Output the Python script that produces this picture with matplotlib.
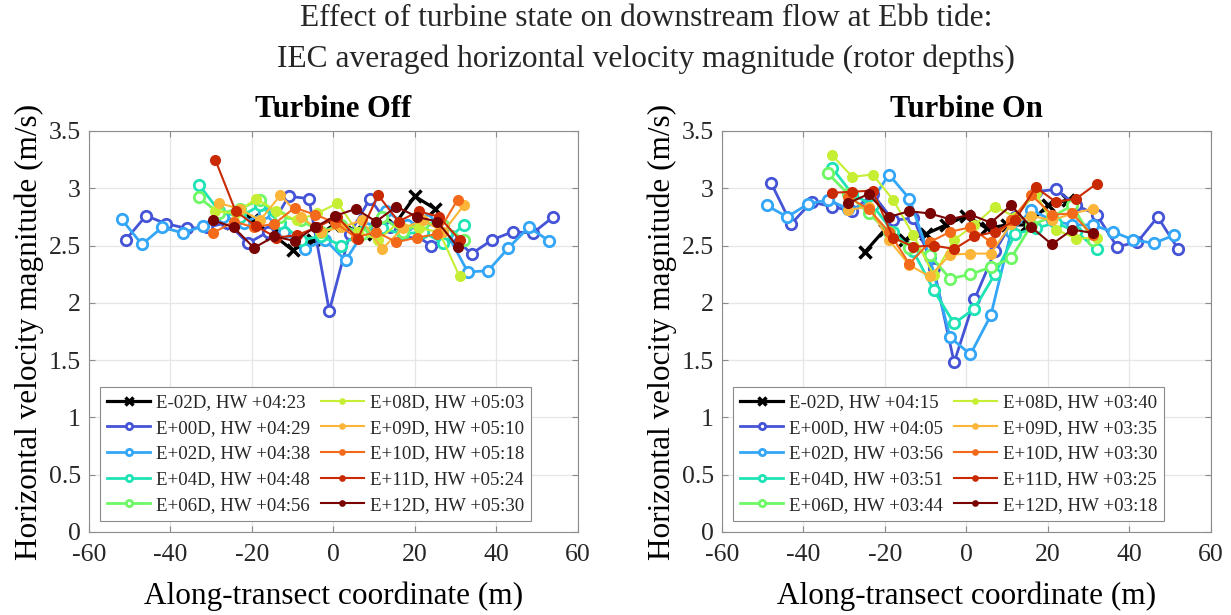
import matplotlib

matplotlib.use("Agg")
import matplotlib.pyplot as plt  # noqa: E402

# ---- Turbine Off -------------------------------------------------------
off_labels = ["E-02D, HW +04:23", "E+00D, HW +04:29", "E+02D, HW +04:38",
              "E+04D, HW +04:48", "E+06D, HW +04:56", "E+08D, HW +05:03",
              "E+09D, HW +05:10", "E+10D, HW +05:18", "E+11D, HW +05:24",
              "E+12D, HW +05:30"]
off_x = [
    [-25, -20, -15, -10, -5, 0, 5, 10, 15, 20, 25],
    [-51, -46, -41, -36, -31, -26, -21, -16, -11, -6, -1, 4, 9, 14, 19, 24, 29, 34, 39, 44, 49, 54],
    [-52, -47, -42, -37, -32, -27, -22, -17, -12, -7, -2, 3, 8, 13, 18, 23, 28, 33, 38, 43, 48, 53],
    [-33, -28, -23, -18, -13, -8, -3, 2, 7, 12, 17, 22, 27, 32],
    [-33, -28, -23, -18, -13, -8, -3, 2, 7, 12, 17, 22, 27, 32],
    [-29, -24, -19, -14, -9, -4, 1, 6, 11, 16, 21, 26, 31],
    [-28, -23, -18, -13, -8, -3, 2, 7, 12, 17, 22, 27, 32],
    [-29.5, -24.5, -19.5, -14.5, -9.5, -4.5, 0.5, 5.5, 10.5, 15.5, 20.5, 25.5, 30.5],
    [-29, -24, -19, -14, -9, -4, 1, 6, 11, 16, 21, 26, 31],
    [-29.5, -24.5, -19.5, -14.5, -9.5, -4.5, 0.5, 5.5, 10.5, 15.5, 20.5, 25.5, 30.5],
]
off_v = [
    [2.70, 2.72, 2.60, 2.46, 2.55, 2.68, 2.62, 2.60, 2.68, 2.93, 2.82],
    [2.55, 2.76, 2.69, 2.65, 2.66, 2.70, 2.52, 2.62, 2.93, 2.91, 1.93, 2.60, 2.91, 2.66, 2.62, 2.50, 2.58, 2.43, 2.55, 2.62, 2.61, 2.75],
    [2.73, 2.51, 2.66, 2.61, 2.67, 2.75, 2.70, 2.78, 2.62, 2.47, 2.55, 2.37, 2.65, 2.80, 2.68, 2.72, 2.60, 2.27, 2.28, 2.48, 2.66, 2.54],
    [3.03, 2.80, 2.75, 2.85, 2.70, 2.55, 2.58, 2.50, 2.62, 2.65, 2.60, 2.62, 2.52, 2.68],
    [2.92, 2.78, 2.82, 2.90, 2.75, 2.72, 2.62, 2.68, 2.60, 2.75, 2.62, 2.70, 2.68, 2.55],
    [2.80, 2.78, 2.91, 2.80, 2.72, 2.78, 2.87, 2.62, 2.55, 2.70, 2.65, 2.62, 2.23],
    [2.87, 2.82, 2.72, 2.94, 2.75, 2.62, 2.66, 2.72, 2.47, 2.65, 2.72, 2.62, 2.85],
    [2.61, 2.71, 2.66, 2.69, 2.83, 2.77, 2.70, 2.57, 2.62, 2.53, 2.57, 2.60, 2.90],
    [3.25, 2.80, 2.67, 2.57, 2.59, 2.66, 2.75, 2.56, 2.94, 2.71, 2.80, 2.75, 2.55],
    [2.72, 2.66, 2.48, 2.58, 2.54, 2.66, 2.76, 2.82, 2.71, 2.84, 2.75, 2.71, 2.49],
]

# ---- Turbine On --------------------------------------------------------
on_labels = ["E-02D, HW +04:15", "E+00D, HW +04:05", "E+02D, HW +03:56",
             "E+04D, HW +03:51", "E+06D, HW +03:44", "E+08D, HW +03:40",
             "E+09D, HW +03:35", "E+10D, HW +03:30", "E+11D, HW +03:25",
             "E+12D, HW +03:18"]
on_x = [
    [-25, -20, -15, -10, -5, 0, 5, 10, 15, 20, 25],
    [-48, -43, -38, -33, -28, -23, -18, -13, -8, -3, 2, 7, 12, 17, 22, 27, 32, 37, 42, 47, 52],
    [-49, -44, -39, -34, -29, -24, -19, -14, -9, -4, 1, 6, 11, 16, 21, 26, 31, 36, 41, 46, 51],
    [-33, -28, -23, -18, -13, -8, -3, 2, 7, 12, 17, 22, 27, 32],
    [-34, -29, -24, -19, -14, -9, -4, 1, 6, 11, 16, 21, 26, 31],
    [-33, -28, -23, -18, -13, -8, -3, 2, 7, 12, 17, 22, 27, 32],
    [-29, -24, -19, -14, -9, -4, 1, 6, 11, 16, 21, 26, 31],
    [-29, -24, -19, -14, -9, -4, 1, 6, 11, 16, 21, 26, 31],
    [-33, -28, -23, -18, -13, -8, -3, 2, 7, 12, 17, 22, 27, 32],
    [-29, -24, -19, -14, -9, -4, 1, 6, 11, 16, 21, 26, 31],
]
on_v = [
    [2.44, 2.64, 2.55, 2.60, 2.68, 2.76, 2.65, 2.68, 2.68, 2.85, 2.90],
    [3.05, 2.69, 2.88, 2.84, 2.80, 2.95, 2.72, 2.74, 2.30, 1.48, 2.03, 2.45, 2.75, 2.97, 2.99, 2.85, 2.77, 2.49, 2.53, 2.75, 2.47],
    [2.85, 2.75, 2.86, 2.90, 2.82, 2.85, 3.12, 2.91, 2.40, 1.70, 1.55, 1.89, 2.62, 2.81, 2.72, 2.68, 2.68, 2.62, 2.55, 2.52, 2.59],
    [3.18, 2.95, 2.85, 2.62, 2.45, 2.11, 1.82, 1.95, 2.25, 2.60, 2.65, 2.70, 2.62, 2.47],
    [3.13, 2.95, 2.78, 2.62, 2.48, 2.42, 2.21, 2.25, 2.31, 2.39, 2.68, 2.75, 2.85, 2.55],
    [3.29, 3.10, 3.12, 2.90, 2.59, 2.24, 2.55, 2.68, 2.84, 2.75, 2.96, 2.64, 2.56, 2.57],
    [2.81, 2.84, 2.55, 2.33, 2.23, 2.42, 2.43, 2.43, 2.69, 2.76, 2.72, 2.78, 2.82],
    [2.92, 2.82, 2.62, 2.34, 2.53, 2.62, 2.66, 2.53, 2.72, 2.94, 2.77, 2.78, 2.59],
    [2.96, 2.97, 2.98, 2.57, 2.49, 2.50, 2.47, 2.58, 2.62, 2.72, 3.01, 2.88, 2.91, 3.04],
    [2.87, 2.95, 2.75, 2.80, 2.78, 2.73, 2.77, 2.70, 2.85, 2.66, 2.51, 2.64, 2.61],
]

x_ticks = [-60, -40, -20, 0, 20, 40, 60]
y_ticks = [0, 0.5, 1, 1.5, 2, 2.5, 3, 3.5]
y_ticklabels = ["0", "0.5", "1", "1.5", "2", "2.5", "3", "3.5"]

# turbo-like palette, one colour per survey line (first is the black reference)
colors = ["#000000", "#4554d6", "#33a6f7", "#1ee3b5", "#6ef865", "#c6ef34",
          "#fbb63a", "#f46a1b", "#c92a04", "#7a0403"]

plt.rcParams["font.family"] = ["Liberation Serif", "DejaVu Serif"]
plt.rcParams["text.color"] = "#262626"


def draw_panel(ax, xs, vs, labels, title):
    for i, (x, v, lab) in enumerate(zip(xs, vs, labels)):
        c = colors[i]
        if i == 0:
            ax.plot(x, v, color=c, lw=2.3, marker="x", ms=9, mew=2.5, label=lab)
        elif i <= 4:
            ax.plot(x, v, color=c, lw=2.0, marker="o", ms=7.5, mew=2.0,
                    mfc="white", label=lab)
        else:
            ax.plot(x, v, color=c, lw=1.5, marker="o", ms=8, mew=0, label=lab)
    ax.set_xlim(-60, 60)
    ax.set_ylim(0, 3.5)
    ax.set_xticks(x_ticks)
    ax.set_yticks(y_ticks)
    ax.set_xticklabels([str(t) for t in x_ticks])
    ax.set_yticklabels(y_ticklabels)
    ax.grid(True, color="#e6e6e6", lw=0.9)
    ax.set_axisbelow(True)
    for s in ax.spines.values():
        s.set_color("#8c8c8c")
        s.set_linewidth(0.8)
    ax.tick_params(direction="in", length=4, width=0.8, color="#8c8c8c",
                   labelsize=18.5, labelcolor="#262626", top=True, right=True)
    ax.tick_params(axis="x", pad=9)
    ax.tick_params(axis="y", pad=6)
    ax.set_xlabel("Along-transect coordinate (m)", fontsize=22.5, labelpad=11)
    ax.set_ylabel("Horizontal velocity magnitude (m/s)", fontsize=22.5,
                  labelpad=3)
    ax.set_title(title, fontsize=22, fontweight="bold", color="black", pad=10)
    leg = ax.legend(loc="lower left", ncol=2, fontsize=13.6, frameon=True,
                    fancybox=False, edgecolor="#8c8c8c", framealpha=1,
                    borderaxespad=0.6, handlelength=2.3, handletextpad=0.3,
                    columnspacing=0.55, labelspacing=0.45, borderpad=0.35,
                    markerscale=0.6)
    leg.get_frame().set_linewidth(0.8)


fig = plt.figure(figsize=(12.31, 6.15), dpi=100)
ax1 = fig.add_axes([0.0723, 0.135, 0.397, 0.652])
ax2 = fig.add_axes([0.5865, 0.135, 0.397, 0.652])
draw_panel(ax1, off_x, off_v, off_labels, "Turbine Off")
draw_panel(ax2, on_x, on_v, on_labels, "Turbine On")

fig.text(0.525, 0.970, "Effect of turbine state on downstream flow at Ebb tide:",
         ha="center", va="center", fontsize=22.7)
fig.text(0.525, 0.904, "IEC averaged horizontal velocity magnitude (rotor depths)",
         ha="center", va="center", fontsize=22.7)

fig.savefig("out.png", dpi=100)
